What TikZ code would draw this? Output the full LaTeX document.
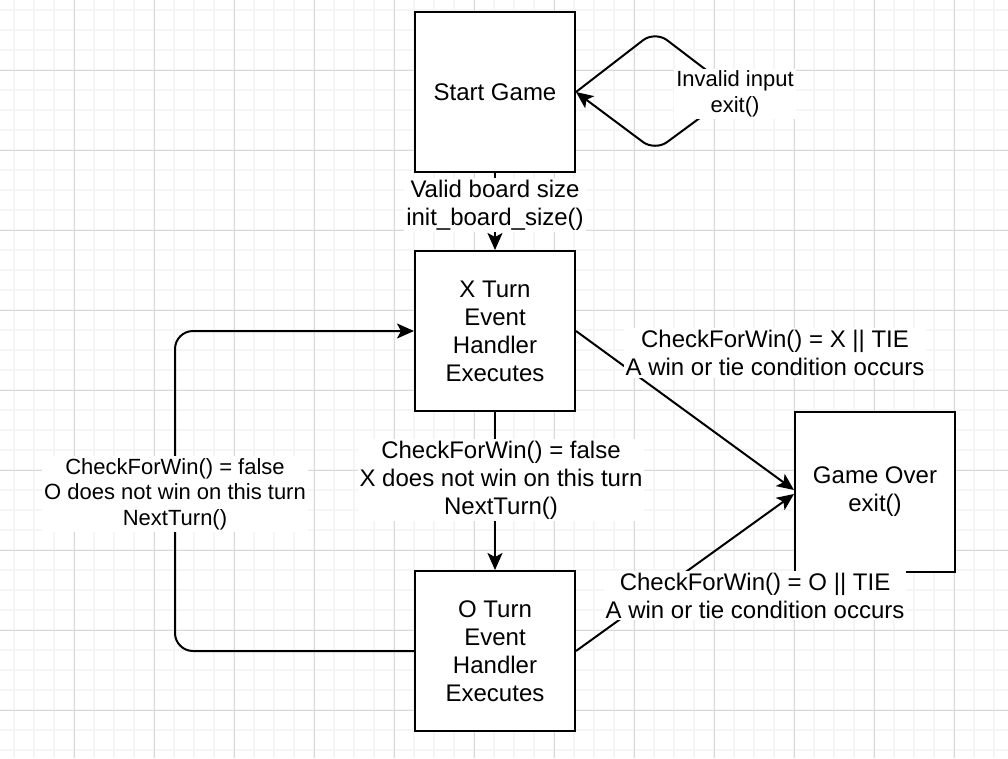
\documentclass[tikz,border=0pt]{standalone}
\usepackage{fontspec}
\setmainfont{Liberation Sans}
\usetikzlibrary{arrows.meta}

\begin{document}
\begin{tikzpicture}[x=1pt, y=-1pt, line width=2pt,
        >={Stealth[length=17pt, width=15pt, inset=4pt]},
        state/.style={rectangle, draw, fill=white, minimum size=160pt, align=center, font=\fontsize{24}{28}\selectfont},
        lbl/.style={fill=white, align=center, inner sep=2pt, font=\fontsize{24}{28}\selectfont},
        smalllbl/.style={lbl, font=\fontsize{22}{25.5}\selectfont},
        minorgrid/.style={line width=2pt, draw=gray!8},
        majorgrid/.style={line width=1pt, draw=gray!30}]
                \useasboundingbox (0,0) rectangle (1008,758);
                \foreach \x in {14,34,...,1008} \draw[minorgrid] (\x,0) -- (\x,758);
                \foreach \y in {10,30,...,758} \draw[minorgrid] (0,\y) -- (1008,\y);
                \foreach \x in {74,154,...,1008} \draw[majorgrid] (\x,0) -- (\x,758);
                \foreach \y in {70,150,...,758} \draw[majorgrid] (0,\y) -- (1008,\y);
                \node[state] (start) at (495,92) {Start Game};
                \node[state] (xturn) at (495,331) {X Turn\\Event\\Handler\\Executes};
                \node[state] (oturn) at (495,651) {O Turn\\Event\\Handler\\Executes};
                \node[state] (over) at (875,492) {Game Over\\exit()};
                \draw[->] (start) -- (xturn);
                \draw[->, rounded corners=15pt] (start.east) -- (655,31) -- (735,92) -- (655,151) -- (start.east);
                \draw[->] (xturn) -- (oturn);
                \draw[->, rounded corners=18pt] (oturn.west) -- (175,651) -- (175,331) -- (xturn.west);
                \draw[->] (xturn.east) -- ([yshift=2pt]over.west);
                \draw[->] (oturn.east) -- ([yshift=-2pt]over.west);
                \node[lbl] (validlbl) at (495,205) {Valid board size\\init\_board\_size()};
                \node[smalllbl] (invalidlbl) at (735,94) {Invalid input\\exit()};
                \node[lbl] (xwinlbl) at (775,353) {CheckForWin() = X || TIE\\A win or tie condition occurs};
                \node[lbl] (owinlbl) at (755,595.5) {CheckForWin() = O || TIE\\A win or tie condition occurs};
                \node[lbl] (xnextlbl) at (501,480) {CheckForWin() = false\\X does not win on this turn\\NextTurn()};
                \node[smalllbl] (onextlbl) at (175,494) {CheckForWin() = false\\O does not win on this turn\\NextTurn()};
            \end{tikzpicture}
\end{document}
